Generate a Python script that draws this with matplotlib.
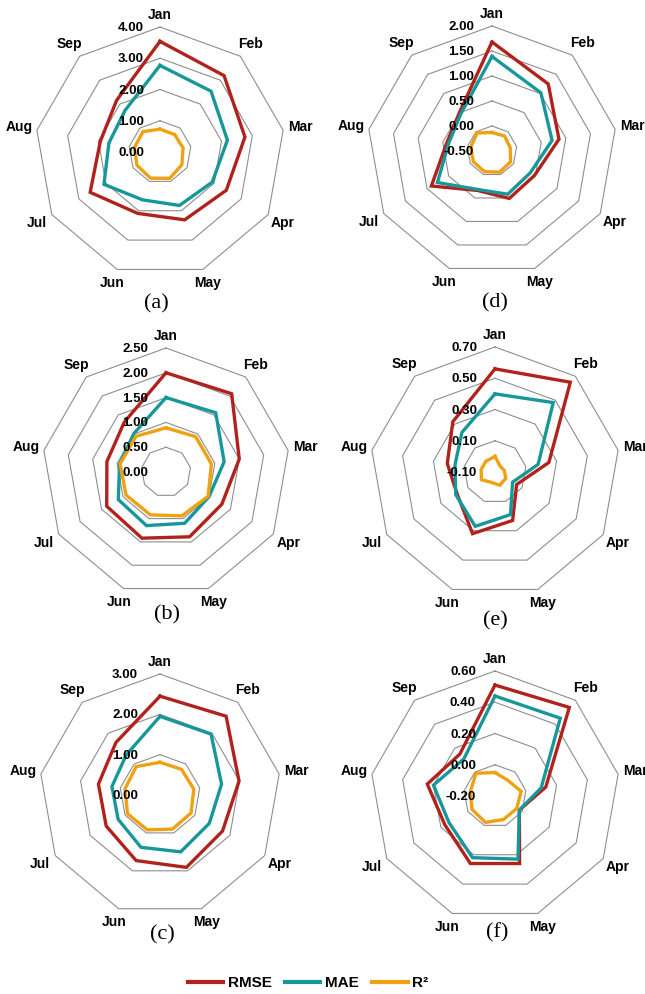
import numpy as np
import matplotlib
matplotlib.use("Agg")
import matplotlib.pyplot as plt
from matplotlib.lines import Line2D

plt.rcParams['font.family'] = ['Liberation Sans', 'DejaVu Sans']

months = ["Jan", "Feb", "Mar", "Apr", "May", "Jun", "Jul", "Aug", "Sep"]
series_names = ["RMSE", "MAE", "R²"]

# ---- data ----
rmse_a = [3.54, 3.19, 2.76, 2.45, 2.31, 2.09, 2.58, 1.94, 2.16]
mae_a  = [2.77, 2.54, 2.19, 1.93, 1.82, 1.63, 2.07, 1.66, 1.74]
r2_a   = [0.73, 0.73, 0.75, 0.81, 0.90, 0.89, 0.85, 0.83, 0.85]
ticks_a = [0.00, 1.00, 2.00, 3.00, 4.00]

rmse_b = [2.00, 2.06, 1.50, 1.30, 1.39, 1.42, 1.38, 1.21, 1.31]
mae_b  = [1.50, 1.56, 1.19, 1.00, 1.10, 1.15, 1.11, 0.95, 1.01]
r2_b   = [0.89, 0.93, 0.93, 0.98, 0.94, 0.92, 0.93, 0.94, 0.94]
ticks_b = [0.00, 0.50, 1.00, 1.50, 2.00, 2.50]

rmse_c = [2.45, 2.55, 1.99, 1.79, 1.91, 1.73, 1.54, 1.55, 1.70]
mae_c  = [1.95, 1.97, 1.55, 1.41, 1.50, 1.38, 1.20, 1.21, 1.30]
r2_c   = [0.81, 0.83, 0.85, 0.89, 0.90, 0.92, 0.93, 0.88, 0.92]
ticks_c = [0.00, 1.00, 2.00, 3.00]

rmse_d = [1.68, 1.25, 0.86, 0.48, 0.51, 0.34, 0.90, 0.42, 0.51]
mae_d  = [1.39, 1.02, 0.72, 0.38, 0.42, 0.32, 0.76, 0.38, 0.47]
r2_d   = [-0.13, -0.11, -0.13, -0.07, -0.05, -0.06, -0.07, -0.07, -0.03]
ticks_d = [-0.50, 0.00, 0.50, 1.00, 1.50, 2.00]

rmse_e = [0.56, 0.65, 0.25, 0.06, 0.23, 0.32, 0.18, 0.21, 0.32]
mae_e  = [0.40, 0.48, 0.18, 0.03, 0.19, 0.27, 0.19, 0.16, 0.23]
r2_e   = [0.00, -0.05, -0.04, -0.02, -0.01, -0.03, 0.00, -0.01, -0.01]
ticks_e = [-0.10, 0.10, 0.30, 0.50, 0.70]

rmse_f = [0.51, 0.54, 0.13, -0.02, 0.26, 0.26, 0.17, 0.24, 0.15]
mae_f  = [0.44, 0.45, 0.10, -0.02, 0.23, 0.22, 0.14, 0.20, 0.11]
r2_f   = [-0.05, -0.07, -0.03, -0.04, -0.04, -0.02, -0.03, -0.04, -0.01]
ticks_f = [-0.20, 0.00, 0.20, 0.40, 0.60]

panel_letters = ["(a)", "(b)", "(c)", "(d)", "(e)", "(f)"]

# ---- styling / layout ----
W, H = 645, 994
colors = ["#B0221B", "#17979A", "#EFA112"]
grid_color = "#8E8E8E"

panels = [
    dict(data=(rmse_a, mae_a, r2_a), ticks=ticks_a, c=(160, 152), R=125, lab=(156, 304), toff=16),
    dict(data=(rmse_b, mae_b, r2_b), ticks=ticks_b, c=(166, 472), R=124, lab=(167, 615), toff=18),
    dict(data=(rmse_c, mae_c, r2_c), ticks=ticks_c, c=(160, 795), R=121, lab=(162, 935), toff=22),
    dict(data=(rmse_d, mae_d, r2_d), ticks=ticks_d, c=(492, 151), R=125, lab=(495, 303), toff=18),
    dict(data=(rmse_e, mae_e, r2_e), ticks=ticks_e, c=(495, 472), R=125, lab=(495, 621), toff=18),
    dict(data=(rmse_f, mae_f, r2_f), ticks=ticks_f, c=(495, 796), R=125, lab=(497, 933), toff=19),
]

fig = plt.figure(figsize=(W / 100, H / 100), dpi=100)
fig.patch.set_facecolor("white")

n = len(months)
theta = np.arange(n) * 2 * np.pi / n
theta_closed = np.append(theta, theta[0])

for p, letter in zip(panels, panel_letters):
    cx, cy = p["c"]
    R = p["R"]
    ax = fig.add_axes([(cx - R) / W, (H - cy - R) / H, 2 * R / W, 2 * R / H],
                      projection="polar")
    ax.set_theta_offset(np.pi / 2)
    ax.set_theta_direction(-1)
    ticks = p["ticks"]
    ax.set_ylim(ticks[0], ticks[-1])
    ax.grid(False)
    ax.spines["polar"].set_visible(False)
    ax.set_xticks([])
    ax.set_yticks([])
    ax.patch.set_alpha(0)

    # polygon grid rings
    for v in ticks[1:]:
        ax.plot(theta_closed, [v] * (n + 1), color=grid_color, lw=0.8,
                clip_on=False, zorder=1)

    # series
    for vals, col in zip(p["data"], colors):
        vv = list(vals) + [vals[0]]
        ax.plot(theta_closed, vv, color=col, lw=2.4, clip_on=False,
                solid_joinstyle="miter", zorder=3)

    # radial tick labels along Jan axis
    for v in ticks:
        ax.annotate(f"{v:.2f}", xy=(0, v), xytext=(-p["toff"], -1),
                    textcoords="offset pixels", ha="right", va="center",
                    fontsize=9.5, fontweight="bold", color="black",
                    annotation_clip=False, zorder=5)

    # month labels
    for t, m in zip(theta, months):
        a = np.pi / 2 - t  # screen angle
        d = 12 + 6 * abs(np.cos(a))
        ax.annotate(m, xy=(t, ticks[-1]), xytext=(d * np.cos(a), d * np.sin(a)),
                    textcoords="offset pixels", ha="center", va="center",
                    fontsize=10, fontweight="bold", color="black",
                    annotation_clip=False)

    fig.text(p["lab"][0] / W, 1 - p["lab"][1] / H, letter, ha="center", va="center",
             fontsize=16, family=["Liberation Serif", "DejaVu Serif"])

handles = [Line2D([0], [0], color=c, lw=3) for c in colors]
fig.legend(handles, series_names, loc="center", bbox_to_anchor=(308 / W, 1 - 983 / H),
           ncol=3, frameon=False, handlelength=2.3, handletextpad=0.3,
           columnspacing=0.9, prop=dict(weight="bold", size=11))

fig.savefig("out.png", dpi=100, facecolor="white")
